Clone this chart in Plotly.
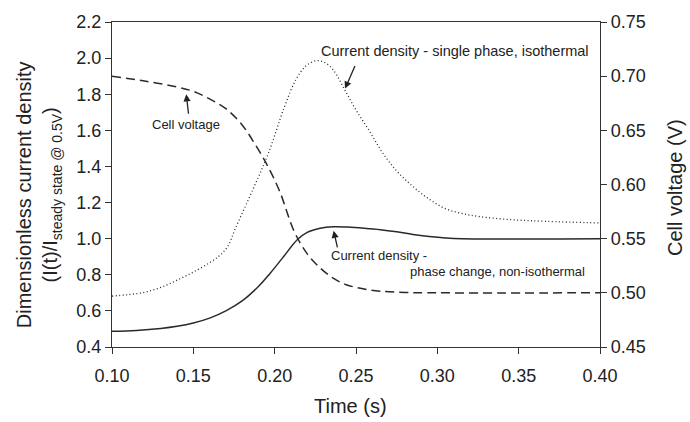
import numpy as np
import plotly.graph_objects as go

# Time axis values (s) and curves
t_single = [0.100, 0.110, 0.120, 0.130, 0.140, 0.150, 0.160, 0.166, 0.171, 0.176,
            0.186, 0.196, 0.206, 0.213, 0.219, 0.224, 0.227, 0.231, 0.236, 0.243,
            0.250, 0.258, 0.266, 0.275, 0.285, 0.295, 0.305, 0.315, 0.326, 0.346,
            0.367, 0.400]
j_single = [0.682, 0.690, 0.703, 0.730, 0.770, 0.815, 0.867, 0.905, 0.955, 1.060,
            1.260, 1.470, 1.730, 1.880, 1.955, 1.982, 1.986, 1.975, 1.935, 1.826,
            1.712, 1.600, 1.480, 1.375, 1.289, 1.219, 1.166, 1.140, 1.122, 1.105,
            1.096, 1.087]

t_phase = [0.100, 0.115, 0.130, 0.140, 0.150, 0.160, 0.170, 0.180, 0.190, 0.197,
           0.205, 0.214, 0.220, 0.228, 0.236, 0.245, 0.255, 0.265, 0.275, 0.285,
           0.295, 0.305, 0.315, 0.400]
j_phase = [0.487, 0.492, 0.503, 0.515, 0.533, 0.560, 0.600, 0.655, 0.735, 0.806,
           0.895, 0.995, 1.035, 1.058, 1.066, 1.064, 1.058, 1.050, 1.038, 1.023,
           1.012, 1.004, 1.000, 1.000]

t_volt = [0.100, 0.120, 0.140, 0.150, 0.160, 0.170, 0.180, 0.188, 0.195, 0.203,
          0.212, 0.220, 0.228, 0.236, 0.244, 0.255, 0.265, 0.280, 0.300, 0.400]
v_cell = [0.700, 0.6955, 0.690, 0.686, 0.679, 0.670, 0.655, 0.637, 0.619, 0.594,
          0.5567, 0.536, 0.523, 0.5135, 0.5075, 0.5035, 0.5015, 0.5003, 0.500, 0.500]

x_ticks = [0.10, 0.15, 0.20, 0.25, 0.30, 0.35, 0.40]
y_ticks = [0.4, 0.6, 0.8, 1.0, 1.2, 1.4, 1.6, 1.8, 2.0, 2.2]
y2_ticks = [0.45, 0.50, 0.55, 0.60, 0.65, 0.70, 0.75]

FONT = "Liberation Sans, Arial, sans-serif"
INK = "#222222"
LINE = "#2a2a2a"
AXIS = "#333333"

fig = go.Figure()
fig.add_trace(go.Scatter(x=t_single, y=j_single, mode="lines", line_shape="spline",
                         line=dict(color=LINE, width=1.3, dash="1px,2.5px"), showlegend=False))
fig.add_trace(go.Scatter(x=t_phase, y=j_phase, mode="lines", line_shape="spline",
                         line=dict(color=LINE, width=1.5), showlegend=False))
fig.add_trace(go.Scatter(x=t_volt, y=v_cell, mode="lines", line_shape="spline", yaxis="y2",
                         line=dict(color=LINE, width=1.5, dash="9px,5px"), showlegend=False))

axis_common = dict(showline=True, linecolor=AXIS, linewidth=1.3, ticks="outside",
                   ticklen=6, tickwidth=1.2, tickcolor=AXIS, showgrid=False, zeroline=False,
                   tickfont=dict(family=FONT, size=18, color=INK))

fig.update_layout(
    width=690, height=422,
    margin=dict(l=112, r=90, t=15, b=75),
    paper_bgcolor="white", plot_bgcolor="white",
    xaxis=dict(range=[0.10, 0.40], tickvals=x_ticks, tickformat=".2f", mirror=True,
               ticklabelstandoff=6, **axis_common),
    yaxis=dict(range=[0.4, 2.2], tickvals=y_ticks, tickformat=".1f", **axis_common),
    yaxis2=dict(range=[0.45, 0.75], tickvals=y2_ticks, tickformat=".2f", overlaying="y",
                side="right", **axis_common),
)

ann_font = dict(family=FONT, size=13, color=INK)

# axis titles
fig.add_annotation(xref="paper", yref="paper", x=-0.149, y=0.468, textangle=-90,
                   showarrow=False, xanchor="center", yanchor="middle",
                   text="Dimensionless current density<br>(I(t)/I<sub>steady state @ 0.5V</sub>)",
                   font=dict(family=FONT, size=20, color=INK))
fig.add_annotation(xref="paper", yref="paper", x=1.155, y=0.491, textangle=-90,
                   showarrow=False, xanchor="center", yanchor="middle",
                   text="Cell voltage (V)", font=dict(family=FONT, size=20, color=INK))
fig.add_annotation(xref="paper", yref="paper", x=0.489, y=-0.183, showarrow=False,
                   xanchor="center", yanchor="middle", text="Time (s)",
                   font=dict(family=FONT, size=20, color=INK))

# curve labels
fig.add_annotation(x=0.311, y=2.04, text="Current density - single phase, isothermal",
                   showarrow=False, font=dict(family=FONT, size=14.5, color=INK),
                   xanchor="center", yanchor="middle")
fig.add_annotation(x=0.1454, y=1.63, text="Cell voltage",
                   showarrow=False, font=ann_font, xanchor="center", yanchor="middle")
fig.add_annotation(x=0.2331, y=0.906, text="Current density -",
                   showarrow=False, font=ann_font, xanchor="left", yanchor="middle")
fig.add_annotation(x=0.2818, y=0.817, text="phase change, non-isothermal",
                   showarrow=False, font=ann_font, xanchor="left", yanchor="middle")

# arrows pointing at the curves
arrow = dict(showarrow=True, text="", arrowhead=2, arrowsize=1.1, arrowwidth=1.3,
             arrowcolor=INK)
ts = 0.243
fig.add_annotation(x=ts, y=float(np.interp(ts, t_single, j_single)), ax=11, ay=-25,
                   standoff=1, **arrow)
tv = 0.1453
fig.add_annotation(x=tv, y=float(np.interp(tv, t_volt, v_cell)), yref="y2", ax=3, ay=26,
                   standoff=5, **arrow)
tp = 0.2357
fig.add_annotation(x=tp, y=float(np.interp(tp, t_phase, j_phase)), ax=5, ay=22,
                   standoff=4, **arrow)

fig.write_html("out.html")
